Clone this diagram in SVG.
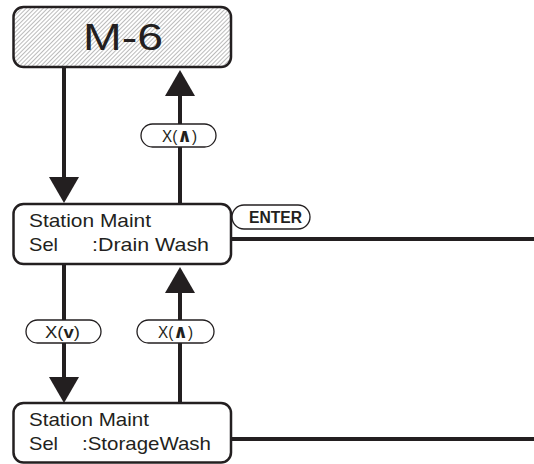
<svg xmlns="http://www.w3.org/2000/svg" width="534" height="464" viewBox="0 0 534 464">
<style>
  .box { fill: #ffffff; stroke: #231f20; stroke-width: 2.5; }
  .hatch { fill: url(#hatch); stroke: #231f20; stroke-width: 2.5; }
  .txt { font-family: "Liberation Sans", Arial, sans-serif; fill: #231f20; }
  .big { font-size: 37.5px; }
  .lcd { font-size: 18.5px; }
  .pill { fill: #ffffff; stroke: #231f20; stroke-width: 1.3; }
  .ptxt { font-family: "Liberation Sans", Arial, sans-serif; font-size: 16px; fill: #231f20; }
  .bold { font-weight: bold; }
  .sym { font-family: "DejaVu Sans", "Liberation Sans", sans-serif; font-weight: bold; font-size: 19px; }
  .line { stroke: #231f20; stroke-width: 4; fill: none; }
</style>
<defs>
  <pattern id="hatch" patternUnits="userSpaceOnUse" width="3" height="3" patternTransform="rotate(45)">
    <rect width="3" height="3" fill="#ffffff"/>
    <line x1="0.5" y1="0" x2="0.5" y2="3" stroke="#b3b3b3" stroke-width="0.9"/>
  </pattern>
  <marker id="head" viewBox="0 0 26 30" refX="0" refY="15" markerWidth="26" markerHeight="30" markerUnits="userSpaceOnUse" orient="auto">
    <path d="M0,0 L26,15 L0,30 z" fill="#231f20"/>
  </marker>
</defs>

<g id="connectors">
  <line class="line" x1="64" y1="67" x2="64" y2="177" marker-end="url(#head)"/>
  <line class="line" x1="180" y1="204" x2="180" y2="96" marker-end="url(#head)"/>
  <line class="line" x1="64" y1="264" x2="64" y2="377" marker-end="url(#head)"/>
  <line class="line" x1="180" y1="403" x2="180" y2="293" marker-end="url(#head)"/>
  <line class="line" x1="231" y1="239" x2="534" y2="239"/>
  <line class="line" x1="231" y1="439" x2="534" y2="439"/>

  <g id="label-up-1">
    <rect class="pill" x="141" y="124" width="75" height="23" rx="11.5"/>
    <text class="ptxt" x="162" y="141.5" textLength="35" lengthAdjust="spacingAndGlyphs">X(<tspan class="sym">∧</tspan>)</text>
  </g>
  <g id="label-down-2">
    <rect class="pill" x="26" y="320" width="75" height="23" rx="11.5"/>
    <text class="ptxt" x="45" y="337.5" textLength="35" lengthAdjust="spacingAndGlyphs">X(<tspan class="bold">v</tspan>)</text>
  </g>
  <g id="label-up-2">
    <rect class="pill" x="137" y="320" width="77" height="23" rx="11.5"/>
    <text class="ptxt" x="158" y="337.5" textLength="35" lengthAdjust="spacingAndGlyphs">X(<tspan class="sym">∧</tspan>)</text>
  </g>
  <g id="label-enter">
    <rect class="pill" x="232" y="205" width="78" height="24" rx="12"/>
    <text class="ptxt bold" x="249" y="223" font-size="15" textLength="53" lengthAdjust="spacingAndGlyphs">ENTER</text>
  </g>
</g>

<g id="m6">
  <rect class="hatch" x="13.5" y="7" width="217.5" height="60" rx="10"/>
  <text class="txt big" x="83" y="50" textLength="80" lengthAdjust="spacingAndGlyphs">M-6</text>
</g>

<g id="station-drain">
  <rect class="box" x="13.5" y="204" width="217.5" height="60" rx="10"/>
  <text class="txt lcd" x="29" y="227" textLength="122" lengthAdjust="spacingAndGlyphs">Station Maint</text>
  <text class="txt lcd" y="251"><tspan x="29" textLength="29" lengthAdjust="spacingAndGlyphs">Sel</tspan><tspan x="92" textLength="117" lengthAdjust="spacingAndGlyphs">:Drain Wash</tspan></text>
</g>

<g id="station-storage">
  <rect class="box" x="13.5" y="403" width="217.5" height="59.5" rx="10"/>
  <text class="txt lcd" x="29" y="426" textLength="120" lengthAdjust="spacingAndGlyphs">Station Maint</text>
  <text class="txt lcd" y="450"><tspan x="29" textLength="29" lengthAdjust="spacingAndGlyphs">Sel</tspan><tspan x="82" textLength="129" lengthAdjust="spacingAndGlyphs">:StorageWash</tspan></text>
</g>
</svg>
